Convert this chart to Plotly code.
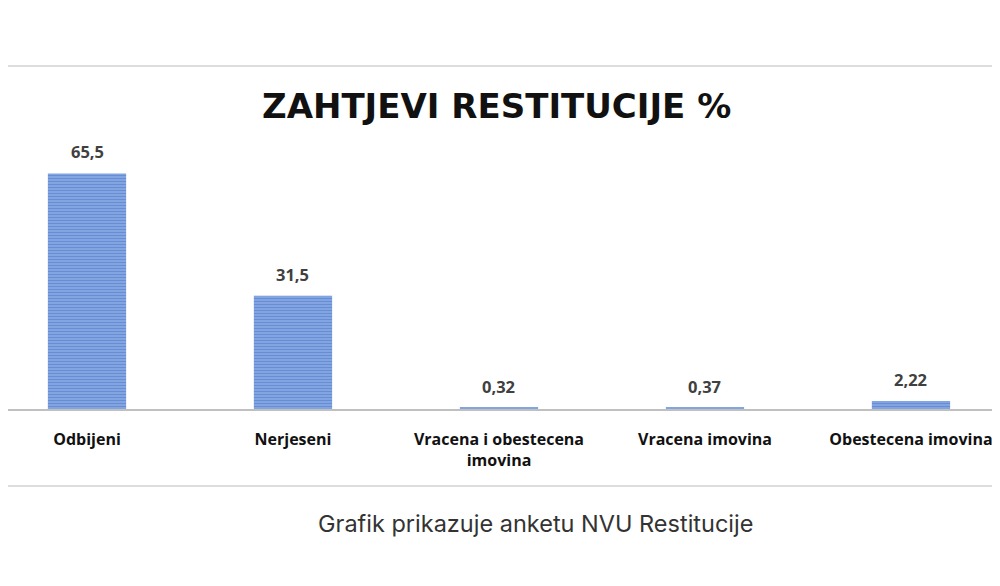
import plotly.graph_objects as go

# podaci
kategorije = ["Odbijeni", "Nerjeseni", "Vracena i obestecena<br>imovina",
              "Vracena imovina", "Obestecena imovina"]
vrijednosti = [65.5, 31.5, 0.32, 0.37, 2.22]
oznake = ["65,5", "31,5", "0,32", "0,37", "2,22"]

naslov = "ZAHTJEVI RESTITUCIJE %"
opis = "Grafik prikazuje anketu NVU Restitucije"

# stranica ima marginu od 8px, pa je sve pomaknuto za 8
OFF = 8
W, H = 1000, 586 - 2 * OFF
top, bottom = 150 - OFF, 409 - OFF  # pikseli plot podrucja


def py(p):
    # piksel (referentni) -> paper y
    return (bottom - (p - OFF)) / (bottom - top)


def px(p):
    return (p - OFF) / W


fig = go.Figure()
fig.add_trace(go.Bar(
    x=kategorije, y=vrijednosti, width=0.38,
    marker=dict(color="#8eaee6", line=dict(width=0),
                pattern=dict(shape="-", fgcolor="#3f6cc2", size=3, solidity=0.55)),
    hoverinfo="skip",
))

for k, v, t in zip(kategorije, vrijednosti, oznake):
    fig.add_annotation(x=k, y=v, text=t, showarrow=False, yanchor="bottom", yshift=8,
                       font=dict(family="Open Sans", size=16.5, color="#404040", weight="bold"))

fig.add_annotation(xref="paper", yref="paper", x=px(496), y=py(106), text="<b>" + naslov + "</b>",
                   showarrow=False, yanchor="middle",
                   font=dict(family="DejaVu Sans", size=34, color="#111111"))
fig.add_annotation(xref="paper", yref="paper", x=px(535), y=py(523), text=opis,
                   showarrow=False, yanchor="middle",
                   font=dict(family="Inter", size=23.5, color="#333333"))

for p in (66, 486):
    fig.add_shape(type="line", xref="paper", yref="paper", x0=0, x1=1, y0=py(p), y1=py(p),
                  line=dict(color="#dddddd", width=2))

fig.update_layout(
    width=W, height=H, showlegend=False,
    margin=dict(l=0, r=0, t=top, b=H - bottom),
    plot_bgcolor="white", paper_bgcolor="white",
    xaxis=dict(range=[-0.3835, 4.471], showline=True, linecolor="#c0c0c0", linewidth=2,
               ticks="", ticklabelstandoff=15, showgrid=False,
               tickfont=dict(family="Open Sans", size=16, color="#111111", weight="bold")),
    yaxis=dict(range=[0, 72], visible=False),
)

fig.write_html("out.html")
